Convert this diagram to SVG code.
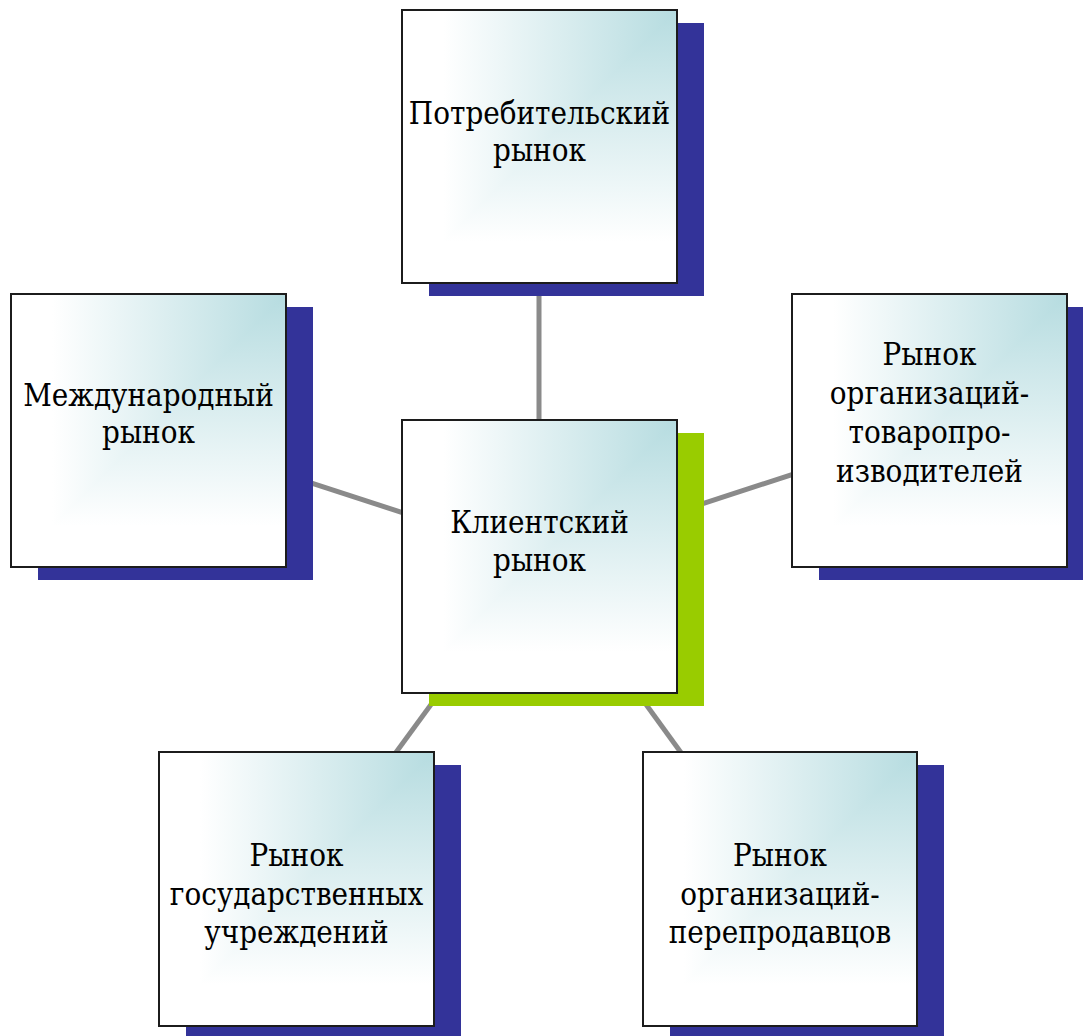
<svg xmlns="http://www.w3.org/2000/svg" width="1083" height="1036" viewBox="0 0 1083 1036">
  <style>
    .link { stroke: #8a8a8a; stroke-width: 5; fill: none; }
    .shadow-blue { fill: #333399; }
    .shadow-green { fill: #99cc00; }
    .face { fill: url(#fadeH); }
    .face-tri { fill: url(#fadeV); }
    .frame { fill: none; stroke: #1c1c1c; stroke-width: 2; }
    .label { font-family: 'DejaVu Serif Condensed', 'DejaVu Serif', 'Liberation Serif', serif; font-stretch: condensed; font-size: 31px; fill: #000; text-anchor: middle; }
  </style>
  <defs>
    <!-- rectangular "from corner" fill: horizontal part for the upper-left half, vertical part for the lower-right half -->
    <linearGradient id="fadeH" x1="1" y1="0" x2="0" y2="0">
      <stop offset="0" stop-color="#b6dce0"/>
      <stop offset="0.85" stop-color="#ffffff"/>
    </linearGradient>
    <linearGradient id="fadeV" x1="0" y1="0" x2="0" y2="1">
      <stop offset="0" stop-color="#b6dce0"/>
      <stop offset="0.85" stop-color="#ffffff"/>
    </linearGradient>
  </defs>

  <g id="connectors">
    <line class="link" x1="539" y1="557" x2="539" y2="147"/>
    <line class="link" x1="539" y1="557" x2="148" y2="430"/>
    <line class="link" x1="539" y1="557" x2="929" y2="430"/>
    <line class="link" x1="539" y1="557" x2="296" y2="889"/>
    <line class="link" x1="539" y1="557" x2="780" y2="889"/>
  </g>

  <g id="node-consumer">
    <rect class="shadow-blue" x="429" y="23" width="275" height="273"/>
    <rect class="face" x="402" y="10" width="275" height="273"/>
    <polygon class="face-tri" points="677,10 677,283 402,283"/>
    <rect class="frame" x="402" y="10" width="275" height="273"/>
    <text class="label"><tspan x="539.5" y="124">Потребительский</tspan><tspan x="539.5" y="161">рынок</tspan></text>
  </g>

  <g id="node-international">
    <rect class="shadow-blue" x="38" y="307" width="275" height="273"/>
    <rect class="face" x="11" y="294" width="275" height="273"/>
    <polygon class="face-tri" points="286,294 286,567 11,567"/>
    <rect class="frame" x="11" y="294" width="275" height="273"/>
    <text class="label"><tspan x="148.5" y="406">Международный</tspan><tspan x="148.5" y="443">рынок</tspan></text>
  </g>

  <g id="node-producers">
    <rect class="shadow-blue" x="819" y="307" width="275" height="273"/>
    <rect class="face" x="792" y="294" width="275" height="273"/>
    <polygon class="face-tri" points="1067,294 1067,567 792,567"/>
    <rect class="frame" x="792" y="294" width="275" height="273"/>
    <text class="label"><tspan x="929.5" y="365">Рынок</tspan><tspan x="929.5" y="404">организаций-</tspan><tspan x="929.5" y="443">товаропро-</tspan><tspan x="929.5" y="482">изводителей</tspan></text>
  </g>

  <g id="node-client">
    <rect class="shadow-green" x="429" y="433" width="275" height="273"/>
    <rect class="face" x="402" y="420" width="275" height="273"/>
    <polygon class="face-tri" points="677,420 677,693 402,693"/>
    <rect class="frame" x="402" y="420" width="275" height="273"/>
    <text class="label"><tspan x="539.5" y="533">Клиентский</tspan><tspan x="539.5" y="571">рынок</tspan></text>
  </g>

  <g id="node-government">
    <rect class="shadow-blue" x="186" y="765" width="275" height="273"/>
    <rect class="face" x="159" y="752" width="275" height="274"/>
    <polygon class="face-tri" points="434,752 434,1026 159,1026"/>
    <rect class="frame" x="159" y="752" width="275" height="274"/>
    <text class="label"><tspan x="296.5" y="866">Рынок</tspan><tspan x="296.5" y="905">государственных</tspan><tspan x="296.5" y="943">учреждений</tspan></text>
  </g>

  <g id="node-resellers">
    <rect class="shadow-blue" x="670" y="765" width="274" height="273"/>
    <rect class="face" x="643" y="752" width="274" height="274"/>
    <polygon class="face-tri" points="917,752 917,1026 643,1026"/>
    <rect class="frame" x="643" y="752" width="274" height="274"/>
    <text class="label"><tspan x="780" y="866">Рынок</tspan><tspan x="780" y="905">организаций-</tspan><tspan x="780" y="943">перепродавцов</tspan></text>
  </g>
</svg>
